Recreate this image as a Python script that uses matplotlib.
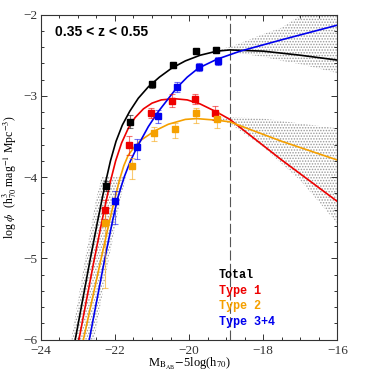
import matplotlib
matplotlib.use("Agg")
import matplotlib.pyplot as plt
from matplotlib.ticker import MultipleLocator

plt.rcParams["font.family"] = ["Liberation Serif", "DejaVu Serif"]
plt.rcParams["mathtext.fontset"] = "stix"
plt.rcParams["hatch.linewidth"] = 0.7

# --- data points (log phi vs absolute magnitude) ---
tot_m = [-22.24, -21.60, -21.00, -20.43, -19.82, -19.26]
tot_y = [-4.11, -3.32, -2.86, -2.62, -2.45, -2.43]
tot_lo = [0.06, 0.08, 0.04, 0.04, 0.03, 0.03]
tot_hi = [0.06, 0.08, 0.04, 0.04, 0.03, 0.03]

t1_m = [-22.26, -21.62, -21.04, -20.46, -19.85, -19.30]
t1_y = [-4.40, -3.61, -3.21, -3.06, -3.04, -3.21]
t1_lo = [0.12, 0.12, 0.06, 0.08, 0.065, 0.09]
t1_hi = [0.12, 0.12, 0.06, 0.08, 0.065, 0.09]

t2_m = [-22.26, -21.53, -20.95, -20.37, -19.82, -19.24]
t2_y = [-4.57, -3.86, -3.46, -3.41, -3.21, -3.28]
t2_lo = [0.79, 0.16, 0.09, 0.11, 0.12, 0.11]
t2_hi = [0.20, 0.095, 0.074, 0.074, 0.06, 0.07]

t34_m = [-22.00, -21.40, -20.84, -20.32, -19.74, -19.23]
t34_y = [-4.29, -3.63, -3.25, -2.89, -2.65, -2.57]
t34_lo = [0.29, 0.15, 0.08, 0.06, 0.05, 0.05]
t34_hi = [0.12, 0.10, 0.08, 0.06, 0.05, 0.05]

# --- fitted curves ---
tot_cm = [-23.07, -22.67, -22.47, -22.27, -22.12, -21.97, -21.80, -21.60, -21.37,
          -21.10, -20.80, -20.47, -20.10, -19.70, -19.25, -18.90, -18.00, -17.00,
          -16.00]
tot_cy = [-6.00, -5.02, -4.55, -4.10, -3.80, -3.56, -3.36, -3.19, -3.03,
          -2.89, -2.77, -2.66, -2.57, -2.50, -2.45, -2.435, -2.45, -2.50,
          -2.56]

t1_cm = [-22.97, -22.56, -22.30, -22.13, -21.98, -21.82, -21.64, -21.46, -21.23,
         -21.00, -20.75, -20.40, -20.05, -19.70, -19.25, -18.90, -17.50, -16.00]
t1_cy = [-6.00, -5.02, -4.43, -4.07, -3.80, -3.58, -3.40, -3.27, -3.16,
         -3.09, -3.05, -3.035, -3.05, -3.10, -3.20, -3.29, -3.79, -4.30]

t2_cm = [-22.85, -22.38, -22.10, -21.88, -21.76, -21.64, -21.46, -21.28, -20.92,
         -20.56, -20.10, -19.80, -19.25, -18.90, -17.50, -16.00]
t2_cy = [-6.00, -5.02, -4.45, -4.04, -3.86, -3.73, -3.62, -3.54, -3.43,
         -3.35, -3.29, -3.28, -3.30, -3.32, -3.56, -3.79]

t34_cm = [-22.69, -22.28, -22.05, -21.92, -21.75, -21.58, -21.40, -21.10, -20.84,
          -20.33, -20.05, -19.75, -19.25, -18.62, -17.50, -16.00]
t34_cy = [-6.00, -5.02, -4.51, -4.25, -4.00, -3.80, -3.63, -3.38, -3.20,
          -2.90, -2.77, -2.66, -2.55, -2.45, -2.31, -2.13]

# --- uncertainty envelopes (dotted grey regions) ---
up_m = [-19.15, -18.90, -18.00, -17.50, -17.00, -16.00]
up_top = [-2.42, -2.40, -2.24, -2.16, -2.01, -2.00]
up_bot = [-2.44, -2.46, -2.52, -2.57, -2.61, -2.72]

lo_m = [-19.15, -18.90, -18.00, -17.00, -16.00]
lo_top = [-3.27, -3.26, -3.28, -3.34, -3.40]
lo_bot = [-3.30, -3.34, -3.63, -4.04, -4.57]

br_y = [-6.00, -5.00, -4.30, -4.00]
br_left = [-23.18, -22.80, -22.52, -22.36]
br_right = [-22.56, -22.16, -21.86, -21.70]

lim_mag = -18.9

BLACK, RED, ORANGE, BLUE = "#000000", "#ee0000", "#f5a000", "#0000ee"
GREY = "#9a9a9a"

fig = plt.figure(figsize=(3.74, 3.74), dpi=100)
ax = fig.add_axes([0.109, 0.092, 0.793, 0.869])

for xs, top, bot in ((up_m, up_top, up_bot), (lo_m, lo_top, lo_bot)):
    ax.fill_between(xs, bot, top, facecolor="none", edgecolor=GREY,
                    hatch="......", linewidth=0)
ax.fill_betweenx(br_y, br_left, br_right, facecolor="none", edgecolor=GREY,
                 hatch="......", linewidth=0)

ax.axvline(lim_mag, color="#555555", lw=0.8, ls=(0, (9, 3)))

series = [
    (tot_m, tot_y, tot_lo, tot_hi, tot_cm, tot_cy, BLACK),
    (t1_m, t1_y, t1_lo, t1_hi, t1_cm, t1_cy, RED),
    (t2_m, t2_y, t2_lo, t2_hi, t2_cm, t2_cy, ORANGE),
    (t34_m, t34_y, t34_lo, t34_hi, t34_cm, t34_cy, BLUE),
]
for m, y, lo, hi, cm, cy, c in series:
    ax.plot(cm, cy, color=c, lw=1.2, zorder=3, solid_joinstyle="round")
    ax.errorbar(m, y, yerr=[lo, hi], fmt="none", ecolor=c, alpha=0.55,
                elinewidth=0.8, capsize=2, capthick=0.8, zorder=4)
    ax.plot(m, y, ls="none", marker="s", ms=4.8, color=c, zorder=5)

ax.set_xlim(-24, -16)
ax.set_ylim(-6, -2)
ax.xaxis.set_major_locator(MultipleLocator(2))
ax.xaxis.set_minor_locator(MultipleLocator(0.5))
ax.yaxis.set_major_locator(MultipleLocator(1))
ax.yaxis.set_minor_locator(MultipleLocator(0.2))
ax.tick_params(which="both", direction="in", top=True, right=True,
               labelsize=9.5, colors="#333333", width=0.7, pad=2.5)
ax.tick_params(axis="x", which="both", pad=4)
ax.tick_params(which="major", length=4.5)
ax.tick_params(which="minor", length=2.5)
for s in ax.spines.values():
    s.set_linewidth(0.8)
    s.set_color("#333333")

ax.set_xlabel(r"M$_{\mathrm{B_{AB}}}$$-$5log(h$_{70}$)", fontsize=9, labelpad=-1)
ax.set_ylabel(r"log $\phi$  (h$^{3}_{70}$ mag$^{-1}$ Mpc$^{-3}$)", fontsize=8.5,
              labelpad=3)

ax.text(0.048, 0.946, "0.35 < z < 0.55", transform=ax.transAxes, fontsize=10,
        fontweight="bold", family=["Liberation Sans", "DejaVu Sans"],
        va="center", ha="left")

labels = ["Total", "Type 1", "Type 2", "Type 3+4"]
label_y = [0.199, 0.151, 0.102, 0.053]
for lab, yy, c in zip(labels, label_y, [BLACK, RED, ORANGE, BLUE]):
    ax.text(0.60, yy, lab, transform=ax.transAxes, color=c, fontsize=8.5,
            family=["Liberation Mono", "DejaVu Sans Mono"], fontweight="bold",
            va="center", ha="left")

fig.savefig("out.png", dpi=100)
